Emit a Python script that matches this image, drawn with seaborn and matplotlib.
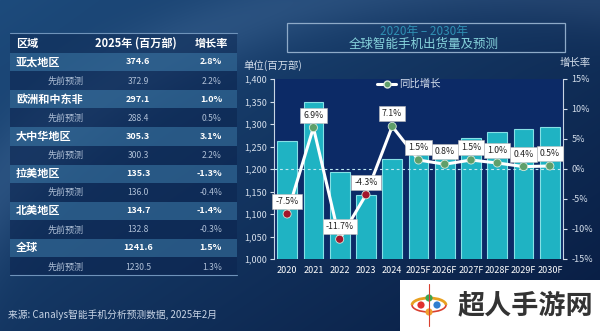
import numpy as np
import matplotlib
matplotlib.use('Agg')
import matplotlib.pyplot as plt
import seaborn as sns
from matplotlib.patches import Rectangle, Circle, Arc
from matplotlib.lines import Line2D
from matplotlib.ticker import FuncFormatter

# ---------------- data ----------------
years = ['2020', '2021', '2022', '2023', '2024', '2025F', '2026F', '2027F', '2028F', '2029F', '2030F']
shipments = [1262, 1350, 1193, 1142, 1223, 1241.6, 1251.5, 1270, 1283, 1288, 1294]
growth = [-7.5, 6.9, -11.7, -4.3, 7.1, 1.5, 0.8, 1.5, 1.0, 0.4, 0.5]

regions = ['亚太地区', '欧洲和中东非', '大中华地区', '拉美地区', '北美地区', '全球']
ship_2025 = ['374.6', '297.1', '305.3', '135.3', '134.7', '1241.6']
growth_2025 = ['2.8%', '1.0%', '3.1%', '-1.3%', '-1.4%', '1.5%']
prev_ship = ['372.9', '288.4', '300.3', '136.0', '132.8', '1230.5']
prev_growth = ['2.2%', '0.5%', '2.2%', '-0.4%', '-0.3%', '1.3%']

table_header = ['区域', '2025年 (百万部)', '增长率']
prev_label = '先前预测'
title_line1 = '2020年 – 2030年'
title_line2 = '全球智能手机出货量及预测'
left_unit = '单位(百万部)'
right_unit = '增长率'
legend_label = '同比增长'
source = '来源: Canalys智能手机分析预测数据, 2025年2月'
watermark = '超人手游网'

sns.set_theme(style='white')
plt.rcParams['font.family'] = ['Noto Sans CJK SC', 'DejaVu Sans']
plt.rcParams['axes.unicode_minus'] = False

W, H = 600, 331
fig = plt.figure(figsize=(6.0, 3.31), dpi=100)

# ---------------- background ----------------
bg = fig.add_axes([0, 0, 1, 1], zorder=0)
bg.set_xlim(0, W)
bg.set_ylim(H, 0)
bg.axis('off')
yy, xx = np.mgrid[0:H, 0:W]
s = np.clip(0.55 * xx / W + 0.45 * yy / H, 0, 1)
c1 = np.array([0x1d, 0x4b, 0x7c]) / 255
c2 = np.array([0x08, 0x1c, 0x42]) / 255
img = c1[None, None, :] * (1 - s[..., None]) + c2[None, None, :] * s[..., None]
d = np.sqrt((xx - 470.0) ** 2 + ((yy - 430.0) * 1.25) ** 2)
band = np.exp(-((d - 560) / 45.0) ** 2) * 0.07
img = np.clip(img + band[..., None], 0, 1)
bg.imshow(img, extent=[0, W, H, 0], aspect='auto', zorder=0)

# ---------------- table ----------------
tx0, tx1 = 10, 237
bg.plot([tx0, tx1], [33, 33], color='#6f93ba', lw=0.8, zorder=2)
bg.plot([tx0, tx1], [275, 275], color='#6f93ba', lw=0.8, zorder=2)
bg.add_patch(Rectangle((tx0, 33), tx1 - tx0, 20, facecolor='#0e2a55', alpha=0.55, lw=0, zorder=1))
bg.text(16, 43, table_header[0], color='white', fontsize=8, fontweight='bold', va='center', ha='left', zorder=3)
bg.text(136, 43, table_header[1], color='white', fontsize=8, fontweight='bold', va='center', ha='center', zorder=3)
bg.text(211, 43, table_header[2], color='white', fontsize=8, fontweight='bold', va='center', ha='center', zorder=3)

row_start = 53.0
pair_h = 37.2
for i, name in enumerate(regions):
    top = row_start + i * pair_h
    bg.add_patch(Rectangle((tx0, top), tx1 - tx0, 18.2, facecolor='#2f6390', alpha=0.75, lw=0, zorder=1))
    bg.add_patch(Rectangle((tx0, top + 18.2), tx1 - tx0, 19.0, facecolor='#0c2550', alpha=0.6, lw=0, zorder=1))
    cy = top + 9.0
    bg.text(16, cy, name, color='white', fontsize=8, fontweight='bold', va='center', ha='left', zorder=3)
    bg.text(138, cy, ship_2025[i], color='white', fontsize=6.5, fontweight='bold', va='center', ha='center', zorder=3)
    bg.text(222, cy, growth_2025[i], color='white', fontsize=6.5, fontweight='bold', va='center', ha='right', zorder=3)
    cy2 = top + 28.0
    bg.text(84, cy2, prev_label, color='#aebfd6', fontsize=6.5, style='italic', va='center', ha='right', zorder=3)
    bg.text(138, cy2, prev_ship[i], color='#aebfd6', fontsize=6.2, style='italic', va='center', ha='center', zorder=3)
    bg.text(222, cy2, prev_growth[i], color='#aebfd6', fontsize=6.2, style='italic', va='center', ha='right', zorder=3)

bg.text(8, 315, source, color='#c9d5e6', fontsize=7, va='center', ha='left', zorder=3)

# ---------------- title box & labels ----------------
bg.add_patch(Rectangle((287, 23), 278, 29, facecolor='none', edgecolor='#8eaac8', lw=0.9, zorder=2))
bg.text(424, 31, title_line1, color='#2f8fb3', fontsize=8.5, va='center', ha='center', zorder=3)
bg.text(424, 44, title_line2, color='#86d3dc', fontsize=9, va='center', ha='center', zorder=3)
bg.text(243, 66, left_unit, color='#d4deeb', fontsize=7.5, va='center', ha='left', zorder=3)
bg.text(591, 63, right_unit, color='#d4deeb', fontsize=7.5, va='center', ha='right', zorder=3)

# ---------------- chart ----------------
ax = fig.add_axes([274 / W, 1 - 259 / H, 289 / W, 180 / H], zorder=2)
ax.set_facecolor('#0c2a66')
sns.barplot(x=years, y=shipments, ax=ax, color='#1fb3c3', saturation=1, width=0.75,
            edgecolor='#86e0e6', linewidth=0.8, zorder=2)
ax.set_ylim(1000, 1400)
ax.set_xlim(-0.5, len(years) - 0.5)
ax.set_yticks(np.arange(1000, 1401, 50))
ax.yaxis.set_major_formatter(FuncFormatter(lambda v, p: f'{int(v):,}'))
ax.set_xlabel('')
ax.set_ylabel('')
for sp in ['top', 'bottom', 'right']:
    ax.spines[sp].set_visible(False)
ax.spines['left'].set_color('#c8d4e3')
ax.spines['left'].set_linewidth(0.8)
ax.tick_params(axis='y', colors='#d4deeb', labelsize=6.5, length=3, width=0.8, direction='out', pad=2, left=True)
ax.tick_params(axis='x', colors='white', labelsize=6.5, length=0, pad=5)

ax2 = ax.twinx()
ax2.set_ylim(-15, 15)
ax2.set_yticks(np.arange(-15, 16, 5))
ax2.yaxis.set_major_formatter(FuncFormatter(lambda v, p: f'{int(v)}%'))
for sp in ['top', 'bottom', 'left']:
    ax2.spines[sp].set_visible(False)
ax2.spines['right'].set_color('#c8d4e3')
ax2.spines['right'].set_linewidth(0.8)
ax2.tick_params(axis='y', colors='#d4deeb', labelsize=6.5, length=3, width=0.8, direction='out', pad=3, right=True)
ax2.axhline(0, color='#bfe9f2', lw=0.8, ls=(0, (2.5, 2.5)), zorder=1)

pos = np.arange(len(years))
sns.lineplot(x=pos, y=growth, ax=ax2, color='white', lw=2.2, sort=False, zorder=3, legend=False)
sign = ['neg' if g < 0 else 'pos' for g in growth]
sns.scatterplot(x=pos, y=growth, hue=sign, palette={'neg': '#a3162c', 'pos': '#5f9f6a'},
                ax=ax2, s=34, edgecolor='#d8e8d8', linewidth=0.6, zorder=4, legend=False)
for xi, g in zip(pos, growth):
    ax2.annotate(f'{g:.1f}%', (xi, g), xytext=(0, 9.0), textcoords='offset points',
                 ha='center', va='center', fontsize=6.3, color='#222222', zorder=5,
                 bbox=dict(boxstyle='square,pad=0.35', facecolor='white', edgecolor='#bbbbbb', lw=0.4))
ax2.set_xlim(-0.5, len(years) - 0.5)

handle = Line2D([0], [0], color='white', lw=2.2, marker='o', markersize=5,
                markerfacecolor='#5f9f6a', markeredgecolor='#d8e8d8')
leg = fig.legend(handles=[handle], labels=[legend_label], loc='center left',
                 bbox_to_anchor=(372 / W, 1 - 84 / H), frameon=False, fontsize=7.5,
                 labelcolor='#d4deeb', handlelength=1.8, handletextpad=0.3, borderpad=0)

# ---------------- watermark ----------------
bg2 = fig.add_axes([0, 0, 1, 1], zorder=5)
bg2.set_xlim(0, W)
bg2.set_ylim(H, 0)
bg2.axis('off')
bg2.add_patch(Rectangle((400, 280), 200, 51, facecolor='white', lw=0))
bg2.add_patch(Arc((429, 305), 34, 14, theta1=180, theta2=360, color='#e8a020', lw=2))
bg2.add_patch(Arc((429, 305), 34, 14, theta1=0, theta2=180, color='#d94030', lw=1.2))
bg2.plot([429, 429], [284, 326], color='#d94030', lw=0.8)
for (cx, cy, col) in [(429, 298, '#3aa655'), (421, 305, '#e0312f'), (437, 305, '#2f7fd0'), (429, 312, '#f0a030')]:
    bg2.add_patch(Circle((cx, cy), 3.6, facecolor=col, lw=0))
bg2.text(525, 305, watermark, color='#333333', fontsize=19.5, fontweight='bold', ha='center', va='center')

fig.savefig('out.png', dpi=100)
